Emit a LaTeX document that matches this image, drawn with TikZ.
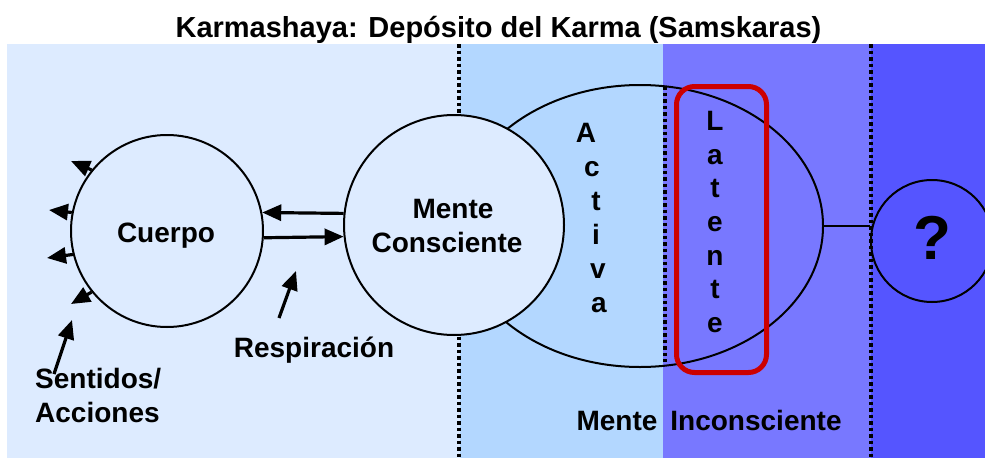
\documentclass[tikz,border=0pt]{standalone}
\usepackage{fontspec}
\setmainfont{Liberation Sans}
\usetikzlibrary{arrows.meta}
\definecolor{bgA}{RGB}{221,235,255}
\definecolor{bgB}{RGB}{179,215,255}
\definecolor{bgC}{RGB}{120,120,255}
\definecolor{bgD}{RGB}{85,85,255}
\definecolor{redbox}{RGB}{204,0,0}
\begin{document}
\begin{tikzpicture}[x=1pt,y=-1pt,
  lbl/.style={font=\fontsize{28}{34}\selectfont\bfseries, inner sep=0pt, anchor=base},
  ttl/.style={font=\fontsize{29}{34}\selectfont\bfseries, inner sep=0pt, anchor=base},
  qmark/.style={font=\fontsize{62}{66}\selectfont\bfseries, inner sep=0pt},
  dotline/.style={line width=3.5pt, dash pattern=on 3.5pt off 3pt},
  ring/.style={draw, line width=2pt, inner sep=0pt},
  arr/.style={line width=3.2pt, -{Triangle[length=19pt,width=16pt]}},
  redframe/.style={draw=redbox, line width=5pt, rounded corners=18pt}
]
\useasboundingbox (0,0) rectangle (985,458);
% backgrounds
\fill[bgA] (7,44) rectangle (460,458);
\fill[bgB] (460,44) rectangle (663,458);
\fill[bgC] (663,44) rectangle (871,458);
\fill[bgD] (871,44) rectangle (985,458);
% dotted separators
\draw[dotline] (459,44) -- (459,458);
\draw[dotline] (871,44) -- (871,458);
\draw[dotline] (665,86) -- (665,362);
% big ellipse (mind)
\draw[line width=2pt] (640,226) ellipse [x radius=183, y radius=141];
\coordinate (mindeast) at (823,226);
% red frame
\draw[redframe] (676.5,86.5) rectangle (766.5,372.5);
% circles
\node[ring, circle, fill=bgA, minimum size=220pt] (mente) at (454,225) {};
\node[ring, circle, minimum size=192pt] (cuerpo) at (167,231) {};
\node[ring, circle, minimum size=122pt] (q) at (932,241) {};
% connector ellipse to ?
\draw[line width=2.5pt] (mindeast) -- (mindeast -| q.west);
% arrows between cuerpo and mente
\draw[arr] (mente.174) -- (cuerpo.11);
\draw[arr] (cuerpo.-4) -- (mente.186);
% sense arrows
\coordinate (s1) at (71,161);
\coordinate (s2) at (49,210);
\coordinate (s3) at (47,258);
\coordinate (s4) at (71,304);
\draw[arr] (cuerpo.141) -- (s1);
\draw[arr] (cuerpo.169) -- (s2);
\draw[arr] (cuerpo.194) -- (s3);
\draw[arr] (cuerpo.219) -- (s4);
\coordinate (sa0) at (54,374);
\coordinate (sa1) at (72,320);
\draw[arr] (sa0) -- (sa1);
\coordinate (r0) at (279,318);
\coordinate (r1) at (296,271);
\draw[arr] (r0) -- (r1);
% texts
\node[ttl] (title) at (498.5,37) {Karmashaya: Depósito del Karma (Samskaras)};
\node[lbl] (tcuerpo) at (166,242) {Cuerpo};
\node[lbl] (tmente1) at (453,218) {Mente};
\node[lbl] (tmente2) at (447,252) {Consciente};
\node[lbl] (tresp) at (314,357) {Respiración};
\node[lbl, anchor=base west] (tsent1) at (35,388) {Sentidos/};
\node[lbl, anchor=base west] (tsent2) at (35,422) {Acciones};
\node[lbl] (tmb) at (617,430) {Mente};
\node[lbl] (tinc) at (756,430) {Inconsciente};
\node[qmark] (tq) at (932,238) {?};
% Activa
\node[lbl] (a1) at (586,142) {A};
\node[lbl] (a2) at (592,176) {c};
\node[lbl] (a3) at (596,210) {t};
\node[lbl] (a4) at (596,244) {i};
\node[lbl] (a5) at (598,278) {v};
\node[lbl] (a6) at (599,312) {a};
% Latente
\node[lbl] (l1) at (715,130) {L};
\node[lbl] (l2) at (715,164) {a};
\node[lbl] (l3) at (715,197) {t};
\node[lbl] (l4) at (715,231) {e};
\node[lbl] (l5) at (715,265) {n};
\node[lbl] (l6) at (715,298) {t};
\node[lbl] (l7) at (715,332) {e};
\end{tikzpicture}
\end{document}
